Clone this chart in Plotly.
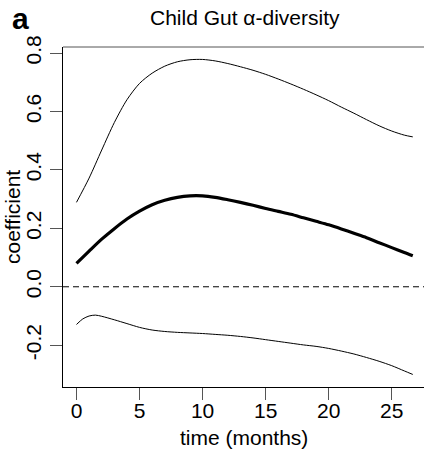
import plotly.graph_objects as go

time_x = [0, 1, 2, 3, 4, 5, 6, 7, 8, 9, 10, 11, 12, 13, 14, 15, 16, 17, 18, 19, 20,
          21, 22, 23, 24, 25, 26, 26.67]

# Upper confidence band
upper_y = [0.289, 0.372, 0.468, 0.562, 0.640, 0.696, 0.731, 0.755, 0.770, 0.777, 0.778,
           0.773, 0.764, 0.753, 0.741, 0.727, 0.711, 0.694, 0.676, 0.657, 0.637,
           0.615, 0.594, 0.572, 0.551, 0.533, 0.519, 0.513]

# Estimated coefficient
mid_y = [0.080, 0.122, 0.163, 0.199, 0.232, 0.259, 0.281, 0.296, 0.306, 0.311, 0.311,
         0.306, 0.298, 0.289, 0.279, 0.268, 0.258, 0.248, 0.236, 0.224, 0.212,
         0.198, 0.183, 0.168, 0.151, 0.134, 0.117, 0.106]

# Lower confidence band
lower_x = [0, 0.5, 1, 1.5, 2, 3, 4, 5, 6, 7, 8, 9, 10, 11, 12, 13, 14, 15, 16, 17, 18,
           19, 20, 21, 22, 23, 24, 25, 26, 26.67]
lower_y = [-0.129, -0.110, -0.100, -0.097, -0.101, -0.113, -0.126, -0.139, -0.148,
           -0.153, -0.156, -0.158, -0.160, -0.163, -0.166, -0.170, -0.175, -0.181,
           -0.187, -0.193, -0.199, -0.204, -0.211, -0.220, -0.230, -0.242, -0.255,
           -0.270, -0.288, -0.300]

x_ticks = [0, 5, 10, 15, 20, 25]
y_ticks = [-0.2, 0.0, 0.2, 0.4, 0.6, 0.8]
y_tick_labels = ["-0.2", "0.0", "0.2", "0.4", "0.6", "0.8"]

FONT = "Liberation Sans, Arial, sans-serif"
FS = 21

fig = go.Figure()
fig.add_trace(go.Scatter(x=time_x, y=upper_y, mode="lines",
                         line=dict(color="black", width=1, shape="spline", smoothing=0.8)))
fig.add_trace(go.Scatter(x=time_x, y=mid_y, mode="lines",
                         line=dict(color="black", width=3.2, shape="spline", smoothing=0.8)))
fig.add_trace(go.Scatter(x=lower_x, y=lower_y, mode="lines",
                         line=dict(color="black", width=1, shape="spline", smoothing=0.8)))

# zero reference line
fig.add_shape(type="line", xref="paper", x0=0, x1=1, yref="y", y0=0, y1=0,
              line=dict(color="black", width=1, dash="6px,4px"))
# top border of box
fig.add_shape(type="line", xref="paper", x0=0, x1=1, yref="paper", y0=1, y1=1,
              line=dict(color="#555", width=1))

L, R, T, B = 63, 0, 47, 62
W, H = 424, 449
pw, ph = W - L - R, H - T - B


def px(xp):
    return (xp - L) / pw


def py(yp_top):
    return (H - yp_top - B) / ph


fig.update_layout(
    width=W, height=H,
    margin=dict(l=L, r=R, t=T, b=B),
    paper_bgcolor="white", plot_bgcolor="white",
    showlegend=False,
    font=dict(family=FONT, size=FS, color="black"),
    xaxis=dict(range=[-1.07, 27.56], tickvals=x_ticks, ticks="outside", ticklen=12,
               tickcolor="#555", tickwidth=1, showline=True, linecolor="black",
               linewidth=1, showgrid=False, zeroline=False,
               tickfont=dict(size=FS), ticklabelstandoff=-7),
    yaxis=dict(range=[-0.343, 0.8206], tickvals=y_ticks, ticktext=y_tick_labels,
               ticks="outside", ticklen=12, tickcolor="#555", tickwidth=1,
               showline=True, linecolor="black", linewidth=1, showgrid=False,
               zeroline=False, tickangle=-90, tickfont=dict(size=FS),
               ticklabelstandoff=1),
    annotations=[
        dict(text="Child Gut α-diversity", x=px(245), y=py(17), xref="paper", yref="paper",
             xanchor="center", yanchor="middle", showarrow=False, font=dict(size=FS)),
        dict(text="<b>a</b>", x=px(20), y=py(18), xref="paper", yref="paper",
             xanchor="center", yanchor="middle", showarrow=False, font=dict(size=30)),
        dict(text="time (months)", x=px(244), y=py(438), xref="paper", yref="paper",
             xanchor="center", yanchor="middle", showarrow=False, font=dict(size=FS)),
        dict(text="coefficient", x=px(12), y=py(217), xref="paper", yref="paper",
             xanchor="center", yanchor="middle", showarrow=False, textangle=-90,
             font=dict(size=FS)),
    ],
)

fig.write_html("out.html")
